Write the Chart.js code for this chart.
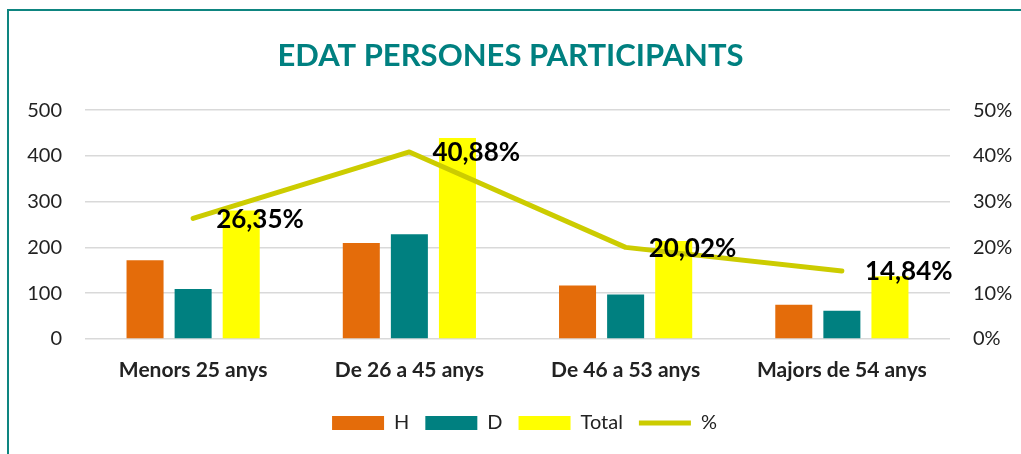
<!DOCTYPE html>
<html>
<head>
<meta charset="utf-8">
<script src="https://cdn.jsdelivr.net/npm/chart.js@4"></script>
<style>
  html, body { margin: 0; padding: 0; background: #ffffff; overflow: hidden; }
  #wrap { position: relative; width: 1021px; height: 454px; }
  #frame { position: absolute; left: 7px; top: 9px; width: 1200px; height: 600px;
           border-left: 2px solid #0e8580; border-top: 2px solid #0e8580; }
  canvas { position: absolute; left: 0; top: 0; }
</style>
</head>
<body>
<div id="wrap">
  <div id="frame"></div>
  <canvas id="c" width="1021" height="454"></canvas>
</div>
<script>
// ---- data ----
const categories = ['Menors 25 anys', 'De 26 a 45 anys', 'De 46 a 53 anys', 'Majors de 54 anys'];
const hValues = [172, 210, 117, 75];
const dValues = [109, 229, 97, 62];
const totalValues = [281, 439, 214, 137];
const pctValues = [26.35, 40.88, 20.02, 14.84];
const seriesNames = ['H', 'D', 'Total', '%'];
const leftTicks = [0, 100, 200, 300, 400, 500];
const rightTicks = [0, 10, 20, 30, 40, 50];

const FONT = 'Lato, "Open Sans", sans-serif';
const TEXT = '#222222';

const pctLabelPlugin = {
  id: 'pctLabels',
  afterLayout(chart) {
    if (chart.legend) { chart.legend.left += 14; chart.legend.right += 14; }
  },
  afterDatasetsDraw(chart) {
    const meta = chart.getDatasetMeta(3);
    const ctx = chart.ctx;
    ctx.save();
    ctx.font = 'bold 26px ' + FONT;
    ctx.fillStyle = '#000000';
    ctx.textAlign = 'left';
    ctx.textBaseline = 'middle';
    meta.data.forEach((pt, i) => {
      const txt = pctValues[i].toFixed(2).replace('.', ',') + '%';
      ctx.fillText(txt, pt.x + 23, pt.y + 1);
    });
    ctx.restore();
  }
};

new Chart(document.getElementById('c'), {
  data: {
    labels: categories,
    datasets: [
      { type: 'bar', label: seriesNames[0], data: hValues, backgroundColor: '#E46C0A',
        yAxisID: 'y', order: 1, pointStyle: 'rect',
        categoryPercentage: 0.667, barPercentage: 0.77 },
      { type: 'bar', label: seriesNames[1], data: dValues, backgroundColor: '#008080',
        yAxisID: 'y', order: 1, pointStyle: 'rect',
        categoryPercentage: 0.667, barPercentage: 0.77 },
      { type: 'bar', label: seriesNames[2], data: totalValues, backgroundColor: '#FFFF00',
        yAxisID: 'y', order: 1, pointStyle: 'rect',
        categoryPercentage: 0.667, barPercentage: 0.77 },
      { type: 'line', label: seriesNames[3], data: pctValues, borderColor: '#CCCC00',
        backgroundColor: '#CCCC00', borderWidth: 5, borderCapStyle: 'round',
        borderJoinStyle: 'round', pointRadius: 0, pointStyle: 'line', tension: 0,
        yAxisID: 'y1', order: 0 }
    ]
  },
  options: {
    responsive: false,
    animation: false,
    layout: { padding: { left: 0, right: 0, top: 0, bottom: 11 } },
    plugins: {
      title: {
        display: true,
        text: 'EDAT PERSONES PARTICIPANTS',
        color: '#008080',
        font: { family: FONT, size: 31, weight: 'bold', lineHeight: 1.2 },
        padding: { top: 37, bottom: 36 }
      },
      legend: {
        display: true,
        position: 'bottom',
        labels: {
          usePointStyle: true,
          pointStyleWidth: 52,
          boxHeight: 14,
          padding: 16,
          color: TEXT,
          font: { family: FONT, size: 20 },
          sort: (a, b) => a.datasetIndex - b.datasetIndex
        }
      },
      tooltip: { enabled: false }
    },
    scales: {
      x: {
        grid: { display: false, drawTicks: false },
        border: { display: false },
        ticks: { color: TEXT, font: { family: FONT, size: 21, weight: 'bold' }, padding: 19 },
        afterFit(scale) { scale.height = 58; }
      },
      y: {
        position: 'left',
        min: leftTicks[0], max: leftTicks[leftTicks.length - 1],
        afterBuildTicks(scale) { scale.ticks = leftTicks.map(v => ({ value: v })); },
        grid: { color: '#D9D9D9', lineWidth: 1.5, drawTicks: false },
        border: { display: false },
        ticks: { color: TEXT, font: { family: FONT, size: 20 }, padding: 23 },
        afterFit(scale) { scale.width = 85; }
      },
      y1: {
        position: 'right',
        min: rightTicks[0], max: rightTicks[rightTicks.length - 1],
        afterBuildTicks(scale) { scale.ticks = rightTicks.map(v => ({ value: v })); },
        grid: { display: false, drawTicks: false },
        border: { display: false },
        ticks: { color: TEXT, font: { family: FONT, size: 20 }, padding: 23,
                 callback: v => v + '%' },
        afterFit(scale) { scale.width = 71; }
      }
    }
  },
  plugins: [pctLabelPlugin]
});
</script>
</body>
</html>
